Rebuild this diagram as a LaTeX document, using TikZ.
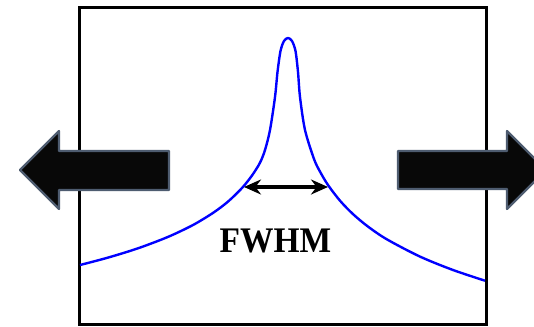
\documentclass[tikz,border=0pt]{standalone}
\usepackage{fontspec}
\setmainfont{Liberation Serif}
\usetikzlibrary{arrows.meta}
\definecolor{arrowedge}{RGB}{78,92,112}
\definecolor{arrowfill}{RGB}{8,8,8}
\definecolor{curveblue}{RGB}{0,0,255}
\tikzset{
  bigarrow/.style={fill=arrowfill, draw=arrowedge, line width=1.1pt, line join=round},
  frame/.style={draw=black, line width=1.5pt},
  peakcurve/.style={draw=curveblue, line width=1.2pt, line join=round},
  fwhmarrow/.style={line width=1.6pt, {Stealth[length=8.5pt,width=7.5pt]}-{Stealth[length=8.5pt,width=7.5pt]}},
}
\begin{document}
\begin{tikzpicture}[x=0.5pt,y=-0.5pt]
\useasboundingbox (0,0) rectangle (534,326);
\clip (0,0) rectangle (534,326);
\fill[white] (0,0) rectangle (534,326);
% frame
\draw[frame] (79,8) rectangle (486,324);
% curve
\draw[peakcurve] plot[smooth, tension=0.5] coordinates {
 (80,265) (108,257.6) (138,248.3) (168,236.9) (193,225) (213,212.9) (228,201.6)
 (242,188) (252,175.5) (260,162.7) (265,150) (270,130) (275,97) (277.5,72)
 (280.5,51) (284,41) (288,38) (292,41) (295.5,51) (298,72) (300,97) (305,130)
 (314,159) (320,171.6) (328,185) (340,200.7) (353,214.1) (368,226.6) (387,239.4)
 (420,256.6) (453,270) (485,280.7)};
% FWHM arrow
\coordinate (fl) at (244,187);
\coordinate (fr) at (328,187);
\draw[fwhmarrow] (fl) -- (fr);
\node[font=\fontsize{18}{20}\selectfont\bfseries, xscale=0.93] (lbl) at (275.5,240.5) {FWHM};
% big arrows
\draw[bigarrow] (20,170) -- (59,131) -- (59,151) -- (169,151) -- (169,190) -- (59,190) -- (59,209) -- cycle;
\draw[bigarrow] (398,151) -- (507,151) -- (507,131) -- (546,170) -- (507,209) -- (507,189) -- (398,189) -- cycle;
\end{tikzpicture}
\end{document}
